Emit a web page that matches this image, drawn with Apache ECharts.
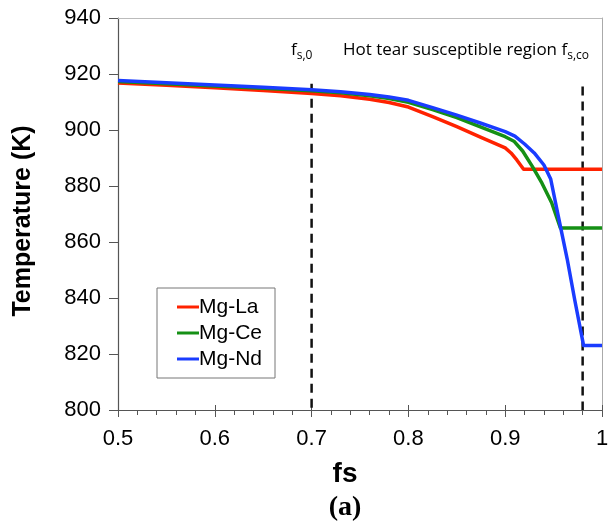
<!DOCTYPE html>
<html><head><meta charset="utf-8">
<script src="https://cdn.jsdelivr.net/npm/echarts@6/dist/echarts.min.js"></script>
<style>html,body{margin:0;padding:0;background:#fff}#c{width:613px;height:522px}</style>
</head><body><div id="c"></div>
<script>
const seriesNames = ['Mg-La', 'Mg-Ce', 'Mg-Nd'];
const laData = [[0.5,916.8],[0.55,916.0],[0.6,915.1],[0.65,914.1],[0.7,913.0],[0.73,912.2],[0.76,911.0],[0.78,909.8],[0.8,908.2],[0.825,904.8],[0.85,901.2],[0.875,897.4],[0.9,893.6],[0.906,891.8],[0.912,889.3],[0.919,886],[1.0,886]];
const ceData = [[0.5,917.3],[0.55,916.5],[0.6,915.7],[0.65,914.9],[0.7,914.0],[0.73,913.3],[0.76,912.2],[0.78,911.2],[0.8,909.9],[0.825,907.3],[0.85,904.4],[0.875,901.0],[0.9,897.6],[0.909,896.0],[0.918,892.5],[0.928,887.0],[0.938,881],[0.948,874],[0.957,865],[1.0,865]];
const ndData = [[0.5,917.7],[0.55,916.9],[0.6,916.1],[0.65,915.3],[0.7,914.4],[0.73,913.7],[0.76,912.7],[0.78,911.8],[0.8,910.6],[0.825,908.0],[0.85,905.3],[0.875,902.4],[0.9,899.4],[0.91,897.8],[0.92,895.0],[0.93,891.8],[0.94,887.5],[0.947,882.5],[0.955,869],[0.964,854],[0.972,839],[0.981,823],[1.0,823]];
const fs0Line = [[0.7,916.5],[0.7,800]];
const fsCoLine = [[0.98,915.5],[0.98,800]];
const colors = ['#ff2200', '#159015', '#1a3cff'];
const xTicks = [0.5,0.6,0.7,0.8,0.9,1.0];
const yTicks = [800,820,840,860,880,900,920,940];

const chart = echarts.init(document.getElementById('c'), null, {renderer:'canvas'});
const lineSeries = [laData, ceData, ndData].map((d,i)=>({
  name: seriesNames[i], type:'line', data:d, showSymbol:false, symbol:'none',
  lineStyle:{color:colors[i], width:3.5, join:'round'}, itemStyle:{color:colors[i]}, z:3+i, animation:false
}));
const dashSeries = [fs0Line, fsCoLine].map(d=>({
  type:'line', data:d, showSymbol:false, symbol:'none', silent:true,
  lineStyle:{color:'#111', width:2.5, type:[9,6]}, z:2, animation:false
}));
const font = 'Liberation Sans, Arial';
chart.setOption({
  animation:false,
  grid:{left:118, right:11, top:18, bottom:112, containLabel:false},
  xAxis:[{type:'value', min:0.5, max:1.0, interval:0.1,
    name:'fs', nameLocation:'middle', nameGap:50,
    nameTextStyle:{fontFamily:font, fontWeight:'bold', fontSize:28, color:'#000', padding:[0,30,0,0]},
    axisLine:{lineStyle:{color:'#555', width:1.2}},
    axisTick:{show:true, length:7, lineStyle:{color:'#555'}},
    minorTick:{show:true, splitNumber:5, length:5, lineStyle:{color:'#555'}},
    splitLine:{show:false},
    axisLabel:{fontFamily:font, fontSize:22, color:'#000', margin:18,
      formatter:v=>{const t=xTicks.find(x=>Math.abs(x-v)<1e-6); return t===undefined?'':(t===1?'1':String(t));}}
  },{type:'value', min:0.5, max:1.0, interval:0.1, position:'bottom',
    axisLine:{show:false}, axisTick:{show:true, inside:true, length:5, lineStyle:{color:'#555'}},
    axisLabel:{show:false}, splitLine:{show:false}
  },{type:'value', min:0.5, max:1.0, position:'top',
    axisLine:{show:true, lineStyle:{color:'#bbb', width:1}}, axisTick:{show:false}, axisLabel:{show:false}, splitLine:{show:false}
  }],
  yAxis:[{type:'value', min:800, max:940, interval:20,
    axisLine:{show:true, lineStyle:{color:'#555', width:1.2}},
    axisTick:{show:true, length:9, lineStyle:{color:'#555'}},
    splitLine:{show:false},
    axisLabel:{fontFamily:font, fontSize:22, color:'#000', margin:17,
      formatter:v=>yTicks.includes(v)?String(v):''}
  },{type:'value', min:800, max:940, position:'right',
    axisLine:{show:true, lineStyle:{color:'#aaa', width:1}}, axisTick:{show:false}, axisLabel:{show:false}, splitLine:{show:false}
  }],
  legend:{data:seriesNames, orient:'vertical', left:157, top:288,
    padding:[8,13,8,20], itemGap:4, itemWidth:22, itemHeight:3, icon:'rect',
    borderColor:'#777', borderWidth:1, backgroundColor:'#fff',
    textStyle:{fontFamily:font, fontSize:21, color:'#000', lineHeight:22, padding:[0,0,0,-5]}
  },
  graphic:[
    {type:'text', left:291, top:42, style:{rich:{m:{fontFamily:'Open Sans', fontSize:17, fill:'#000'}, s:{fontFamily:'Open Sans', fontSize:12, fill:'#000', padding:[10,0,0,0]}}, text:'{m|f}{s|s,0}'}},
    {type:'text', left:343, top:42, style:{rich:{m:{fontFamily:'Open Sans', fontSize:17, fill:'#000'}, s:{fontFamily:'Open Sans', fontSize:12, fill:'#000', padding:[10,0,0,0]}}, text:'{m|Hot tear susceptible region f}{s|s,co}'}},
    {type:'text', x:23, y:221, rotation:Math.PI/2, style:{text:'Temperature (K)', fontFamily:font, fontWeight:'bold', fontSize:25, fill:'#000', align:'center', verticalAlign:'middle'}},
    {type:'text', x:345, y:508, style:{text:'(a)', fontFamily:'Liberation Serif, Times New Roman', fontWeight:'bold', fontSize:28, fill:'#000', align:'center', verticalAlign:'middle'}}
  ],
  series:[...dashSeries, ...lineSeries]
});
</script></body></html>
